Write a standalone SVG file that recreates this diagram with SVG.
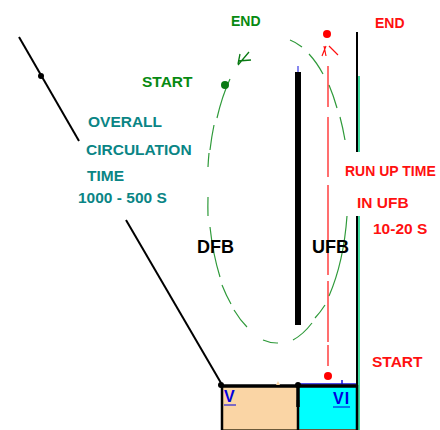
<svg xmlns="http://www.w3.org/2000/svg" width="440" height="430" viewBox="0 0 440 430">
<style>
text{font-family:"Liberation Sans",Arial,sans-serif;font-weight:bold;font-size:15.500px}
.g{fill:#078a12}.t{fill:#0a8585}.r{fill:#ff1010}.b{fill:#0000e0;font-size:16px}.k{fill:#000;font-size:18px}
.w{stroke:#000;fill:none}
</style>
<rect width="440" height="430" fill="#fff"/>
<g id="tanks">
<rect x="222" y="386" width="76" height="43" fill="#fad5a5"/>
<rect x="298" y="386" width="59" height="43" fill="#00ffff"/>
<path d="M221 429.500H358" stroke="#6b5a3a" stroke-width="1" fill="none"/>
<path d="M359 76V152M359 216V430" stroke="#00d080" stroke-width="1.500" fill="none"/>
<path class="w" stroke-width="2.500" d="M222 385V430M298 400V430M357 385V430"/>
<path d="M298 384H357M342 380V384" stroke="#1010e0" stroke-width="1.500" fill="none"/>
<path class="w" stroke-width="3.500" d="M221 386H356"/>
<circle cx="221" cy="385" r="3" fill="#000"/>
<circle cx="298" cy="385" r="3" fill="#000"/>
<path class="w" stroke-width="3.500" d="M298 385V407"/>
<path d="M278 381L280 385H276Z" fill="#fad5a5"/>
</g>
<g id="walls">
<path class="w" stroke-width="2" d="M19 37L79 141"/>
<circle cx="41" cy="76" r="3" fill="#000"/>
<path class="w" stroke-width="2" d="M126 220L221 383"/>
<path class="w" stroke-width="6" d="M298 72V325"/>
<path d="M298 66V72" stroke="#1010e0" stroke-width="1"/>
<path class="w" stroke-width="2" d="M357 32V152M357 216V385"/>
</g>
<g id="connectors" fill="none">
<path stroke="#2f9a3a" stroke-width="1.200" d="M230 79A70 151 0 0 0 217 118M214 125A70 151 0 0 0 210 150M209 153A70 151 0 0 0 208 167M208 197A70 151 0 0 0 208 216M210 227A70 151 0 0 0 220 277M222 285A70 151 0 0 0 231 304M234 310A70 151 0 0 0 247 327M263 340A70 151 0 0 0 278 343M293 340A70 151 0 0 0 312 323M315 318A70 151 0 0 0 325 305M329 296A70 151 0 0 0 347 216M345 140A70 151 0 0 0 340 117M337 108A70 151 0 0 0 329 85M323 74A70 151 0 0 0 309 54M302 47A70 151 0 0 0 290 40"/>
<path stroke="#ff1010" stroke-width="1.200" d="M328 66V107M328 117V177M328 185V275M328 281V342M328 345V366M326 56L324 46M326 46L322 56M329 46L338 55"/>
<path stroke="#0a7a14" stroke-width="1.300" d="M249 52L238 65M238 61L251 60M240 54L238 64"/>
<circle cx="225" cy="85" r="4" fill="#0a7a14"/>
<circle cx="327" cy="34" r="4" fill="#ff0000"/>
<circle cx="328" cy="376" r="4" fill="#ff0000"/>
</g>
<g id="labels">
<text class="g" x="231" y="26" style="font-size:14px">END</text>
<text class="g" x="142" y="87">START</text>
<text class="r" x="375" y="28" style="font-size:14px">END</text>
<text class="t" x="88" y="127">OVERALL</text>
<text class="t" x="86" y="155">CIRCULATION</text>
<text class="t" x="87" y="181">TIME</text>
<text class="t" x="78" y="203">1000 - 500 S</text>
<text class="r" x="345" y="176" style="font-size:14px">RUN UP TIME</text>
<text class="r" x="357" y="208">IN UFB</text>
<text class="r" x="373" y="234">10-20 S</text>
<text class="r" x="372" y="367">START</text>
<text class="k" x="197" y="253">DFB</text>
<text class="k" x="312" y="253">UFB</text>
<text class="b" x="224" y="402">V</text>
<text class="b" x="333" y="404" letter-spacing="1">VI</text>
<path d="M224 405H236M333 407H350" stroke="#0000e0" stroke-width="1" fill="none"/>
</g>
</svg>
